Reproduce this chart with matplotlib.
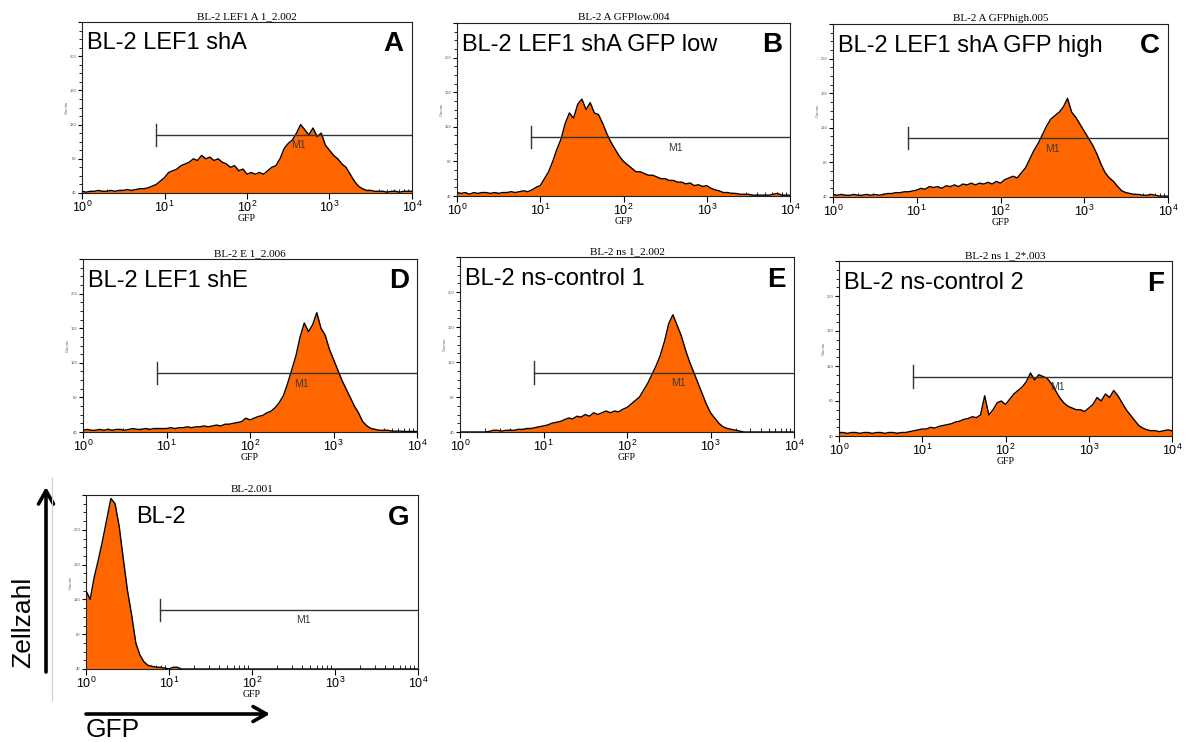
import numpy as np
import matplotlib
matplotlib.use("Agg")
import matplotlib.pyplot as plt
from matplotlib.ticker import LogLocator, MultipleLocator, NullFormatter

plt.rcParams['font.family'] = ['Liberation Sans', 'DejaVu Sans']
plt.rcParams['mathtext.fontset'] = 'stix'

ORANGE = '#ff6600'
W, H = 1194, 742

# channel positions: 20 per decade from 10^0 to 10^4
bin_step = 0.05
n_bins = 81

# counts per channel, in percent of the histogram full scale
counts_a = [1, 0.5, 1, 1, 1.5, 1, 1, 1.5, 1, 1.5, 1.5, 2, 1.5, 2, 2.5, 2.5, 3, 4, 5, 7,
            9, 12, 13, 14, 16, 17, 18, 20, 19, 22, 20, 21, 19, 20, 18, 17, 15, 16, 13, 14,
            11, 12, 11, 12, 11, 13, 15, 16, 20, 26, 29, 31, 35, 40, 37, 34, 38, 33, 35, 28,
            25, 22, 20, 17, 15, 11, 7, 4, 2.5, 1.5, 1.5, 1, 1, 1, 0.5, 1, 1, 0.5, 1, 1, 1]
counts_b = [2, 1.5, 2, 1, 2, 1.5, 2, 2, 1.5, 2, 1.5, 2, 2, 2.5, 2, 2.5, 3, 2.5, 3.5, 5,
            6, 10, 14, 20, 27, 33, 42, 48, 45, 53, 56, 50, 54, 48, 47, 42, 36, 31, 27, 23,
            20, 18, 16, 14, 14, 13, 12, 12, 11, 10, 10, 9, 9, 8, 8, 7, 7.5, 6, 6.5, 5.5,
            6, 4.5, 3.5, 3, 2, 2, 1.5, 1.5, 1, 1, 1, 0.5, 0.5, 0.5, 0.5, 0.5, 1, 1.5, 0.5, 0.5, 0.5]
counts_c = [1.5, 1, 1.5, 1, 1, 1.5, 1, 1, 1.5, 1, 1.5, 1, 1.5, 2, 2, 2.5, 2.5, 3, 3, 3.5,
            4, 5, 4.5, 6, 5.5, 6, 5, 6.5, 6, 7, 6, 7.5, 7, 8, 7, 8, 7.5, 8.5, 7.5, 9,
            8, 10, 11, 12, 11, 14, 17, 22, 27, 31, 36, 41, 45, 47, 49, 52, 57, 49, 46, 42,
            38, 34, 30, 25, 19, 14, 11, 9, 6, 3.5, 2.5, 2, 1.5, 1.5, 1, 1, 1.5, 1, 0.5, 0.5, 0.5]
counts_d = [1, 1.5, 1, 1, 1.5, 1, 1.5, 1, 1.5, 1.5, 1, 1.5, 2, 1.5, 1.5, 2, 1.5, 2, 2, 2,
            2, 2.5, 2, 2.5, 2.5, 3, 2.5, 3, 3, 3.5, 3, 3.5, 4, 3.5, 4.5, 4.5, 5, 5.5, 6, 8,
            7, 8, 9, 9.5, 11, 12, 14, 17, 21, 28, 36, 44, 55, 63, 58, 62, 69, 60, 56, 48,
            42, 36, 30, 25, 20, 15, 11, 6, 3.5, 2, 1.5, 1, 1, 1, 0.5, 0.5, 0.5, 0.3, 0.3, 0.3, 0.3]
counts_e = [0, 0, 0, 0, 0, 0, 0, 0.3, 1, 1, 0.5, 1, 1, 1, 1.5, 1.5, 2, 2, 2.5, 3,
            3.5, 4, 5, 5.5, 6, 7, 8, 7.5, 9, 8.5, 10, 9, 11, 10, 11, 12, 11, 12, 11.5, 13,
            14, 16, 18, 20, 24, 28, 33, 38, 44, 52, 62, 67, 61, 55, 47, 40, 34, 28, 22, 16,
            11, 8, 5, 3, 2, 1.5, 1, 0.5, 0, 0, 0, 0, 0, 0, 0, 0, 0, 0, 0, 0, 0]
counts_f = [2, 2, 1.5, 2, 2, 1.5, 2, 2, 1.5, 2, 2, 1.5, 2, 2, 1.5, 2, 2, 2.5, 3, 3.5,
            4, 4, 5, 4.5, 5.5, 6, 6.5, 7, 8, 8.5, 9.5, 10, 11, 10.5, 12, 23, 12, 15, 19, 20,
            18, 21, 24, 26, 28, 31, 36, 32, 35, 34, 33, 30, 26, 22, 19, 17, 16, 15, 15, 14,
            16, 18, 22, 20, 24, 22, 26, 23, 19, 15, 12, 9, 6, 4.5, 3.5, 3, 3, 2.5, 3, 3.5, 3]
counts_g = [45, 40, 53, 63, 74, 86, 98, 95, 82, 63, 45, 31, 15, 8, 4, 2, 1.5, 1, 1, 0.5,
            0, 1, 1, 0] + [0] * 57

file_names = ['BL-2 LEF1 A 1_2.002', 'BL-2 A GFPlow.004', 'BL-2 A GFPhigh.005',
              'BL-2 E 1_2.006', 'BL-2 ns 1_2.002', 'BL-2 ns 1_2*.003', 'BL-2.001']
samples = ['BL-2 LEF1 shA', 'BL-2 LEF1 shA GFP low', 'BL-2 LEF1 shA GFP high',
           'BL-2 LEF1 shE', 'BL-2 ns-control 1', 'BL-2 ns-control 2', 'BL-2']
letters = ['A', 'B', 'C', 'D', 'E', 'F', 'G']
all_counts = [counts_a, counts_b, counts_c, counts_d, counts_e, counts_f, counts_g]

# M1 marker gate: lower bound and height (percent of full scale)
m1_start = 7.8
m1_level = 34

# panel frames in pixels: left, top, right, bottom
frames = [(82, 22, 412, 193), (457, 23, 790, 196), (833, 24, 1168, 197),
          (83, 259, 417, 432), (460, 257, 794, 432), (839, 261, 1172, 436),
          (86, 495, 418, 669)]

fig = plt.figure(figsize=(W / 100, H / 100), dpi=100)

channels = 10 ** (np.arange(n_bins) * bin_step)

for i in range(len(frames)):
    l, t, r, b = frames[i]
    ax = fig.add_axes([l / W, 1 - b / H, (r - l) / W, (b - t) / H])
    vals = np.array(all_counts[i], dtype=float)
    ax.fill_between(channels, 0, vals, color=ORANGE, lw=0, zorder=2)
    ax.plot(channels, vals, color='black', lw=1.0, zorder=3)
    ax.set_xscale('log')
    ax.set_xlim(1, 1e4)
    ax.set_ylim(0, 100)

    # gate bar
    ax.plot([m1_start, 1e4], [m1_level, m1_level], color='#333333', lw=1.0, zorder=4)
    ax.plot([m1_start, m1_start], [m1_level - 6.5, m1_level + 6.5], color='#333333', lw=1.0, zorder=4)
    ax.text(10 ** 2.62, m1_level - 6, 'M1', fontsize=7.5, color='#3a3a3a',
            ha='center', va='center', zorder=5)

    # sample name and panel letter
    x0 = 0.15 if letters[i] == 'G' else 0.016
    ax.text(x0, 0.875, samples[i], transform=ax.transAxes, fontsize=17, va='center', ha='left')
    ax.text(0.975, 0.87, letters[i], transform=ax.transAxes, fontsize=20, fontweight='bold',
            va='center', ha='right')

    ax.set_title(file_names[i], fontsize=8, family='Liberation Serif', pad=2)

    ax.xaxis.set_major_locator(LogLocator(base=10, numticks=10))
    ax.xaxis.set_minor_locator(LogLocator(base=10, subs=np.arange(2, 10), numticks=10))
    ax.xaxis.set_minor_formatter(NullFormatter())
    ax.tick_params(axis='x', which='major', direction='out', length=4, width=0.8,
                   labelsize=9, pad=1)
    ax.tick_params(axis='x', which='minor', direction='in', length=3, width=0.6)
    ax.set_xlabel('GFP', fontsize=7, family='Liberation Serif', labelpad=-1)

    # y scale labels are printed very small, as on the cytometer printout
    ax.yaxis.set_major_locator(MultipleLocator(20))
    ax.yaxis.set_minor_locator(MultipleLocator(5))
    ax.set_yticklabels(['0', '40', '80', '120', '160', '200'])
    ax.tick_params(axis='y', which='major', direction='out', length=3, width=0.8,
                   labelsize=3, labelcolor='#555555', pad=1)
    ax.tick_params(axis='y', which='minor', direction='out', length=2, width=0.6)
    ax.set_ylabel('Counts', fontsize=3, color='#555555', labelpad=1)

    for sp in ax.spines.values():
        sp.set_linewidth(0.8)
        sp.set_color('#222222')

# axis arrows for the bottom-left panel
arrow_style = '->,head_length=0.8,head_width=0.45'
fig.add_artist(matplotlib.patches.FancyArrowPatch((46 / W, 1 - 672 / H), (46 / W, 1 - 487 / H),
                                                  transform=fig.transFigure, mutation_scale=12,
                                                  arrowstyle=arrow_style, lw=2.6, color='black',
                                                  shrinkA=0, shrinkB=0))
fig.add_artist(matplotlib.patches.FancyArrowPatch((86 / W, 1 - 714 / H), (270 / W, 1 - 714 / H),
                                                  transform=fig.transFigure, mutation_scale=12,
                                                  arrowstyle=arrow_style, lw=2.6, color='black',
                                                  shrinkA=0, shrinkB=0))
fig.text(23 / W, 1 - 622 / H, 'Zellzahl', rotation=90, fontsize=19, ha='center', va='center')
fig.text(86 / W, 1 - 737 / H, 'GFP', fontsize=19, ha='left', va='baseline')
fig.add_artist(plt.Line2D([52 / W, 52 / W], [1 - 700 / H, 1 - 478 / H], color='#cccccc',
                          lw=0.8, transform=fig.transFigure))

fig.savefig('out.png', dpi=100)
